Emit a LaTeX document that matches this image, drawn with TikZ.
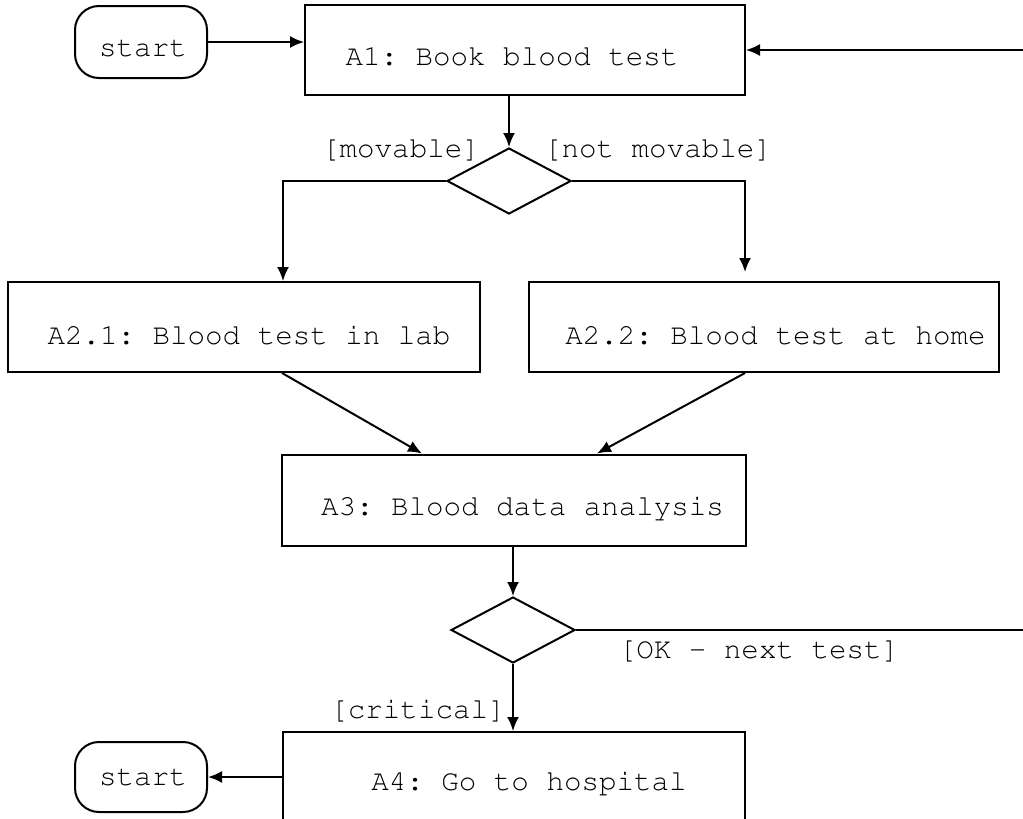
\documentclass[tikz,border=0pt]{standalone}
\usepackage[T1]{fontenc}
\renewcommand{\ttdefault}{pcr}
\usetikzlibrary{arrows.meta,positioning,shapes.geometric,calc}

\begin{document}
\frenchspacing
\begin{tikzpicture}[x=0.5pt,y=-0.5pt,
        every node/.style={font=\ttfamily\fontsize{14.6}{17}\selectfont},
        actbox/.style={draw, line width=1pt, inner sep=0pt},
        startbox/.style={draw, line width=1pt, rounded corners=12pt, inner sep=0pt,
            minimum width=66pt, minimum height=36pt},
        decbox/.style={draw, diamond, line width=1pt, inner sep=0pt,
            minimum width=62pt, minimum height=33pt},
        flow/.style={line width=1pt, -{Latex[length=7pt,width=6pt]}},
        guard/.style={anchor=base, inner sep=0pt}]
            \clip (0,0) rectangle (1023,819);

            \node[startbox] (start1) at (141,42) {};
            \node[guard] at (143,56.5) {start};
            \node[actbox, minimum width=220pt, minimum height=45pt] (a1) at (525,50) {};
            \node[guard] at (512,65.5) {A1: Book blood test};

            \node[decbox] (dec1) at (509,181) {};
            \node[guard] at (401,157.5) {[movable]};
            \node[guard] at (658,157.5) {[not movable]};

            \node[actbox, minimum width=236pt, minimum height=45pt] (a21) at (244,327) {};
            \node[guard] at (249,344.5) {A2.1: Blood test in lab};
            \node[actbox, minimum width=235pt, minimum height=45pt] (a22) at (764,327) {};
            \node[guard] at (775.5,344.5) {A2.2: Blood test at home};

            \node[actbox, minimum width=232pt, minimum height=45.5pt] (a3) at (514,500) {};
            \node[guard] at (522.5,515.5) {A3: Blood data analysis};

            \node[decbox] (dec2) at (513,630) {};
            \node[guard] at (759,658.5) {[OK - next test]};
            \node[guard] at (418,718.5) {[critical]};

            \node[actbox, minimum width=231pt, minimum height=45pt] (a4) at (514,777) {};
            \node[guard] at (529,790.5) {A4: Go to hospital};
            \node[startbox, minimum height=35pt] (start2) at (141,777) {};
            \node[guard] at (143,785.5) {start};

            \coordinate (loopc) at (1040,0);

            \draw[flow] (start1.east) -- (start1.east -| a1.west);
            \draw[flow] (dec1.north |- a1.south) -- (dec1.north);
            \draw[flow] (dec1.west) -| ([xshift=19.5pt]a21.north);
            \draw[flow] (dec1.east) -| ([xshift=-9.5pt,yshift=4.5pt]a22.north);
            \draw[flow] ([xshift=19pt]a21.south) -- ([xshift=-46pt]a3.north);
            \draw[flow] ([xshift=-9.5pt]a22.south) -- ([xshift=41.5pt]a3.north);
            \draw[flow] (dec2.north |- a3.south) -- (dec2.north);
            \draw[flow] (dec2.south) -- (dec2.south |- a4.north);
            \draw[flow] (a4.west |- start2.east) -- (start2.east);
            \draw[flow] (dec2.east) -- (dec2.east -| loopc) |- (a1.east);
        \end{tikzpicture}
\end{document}
